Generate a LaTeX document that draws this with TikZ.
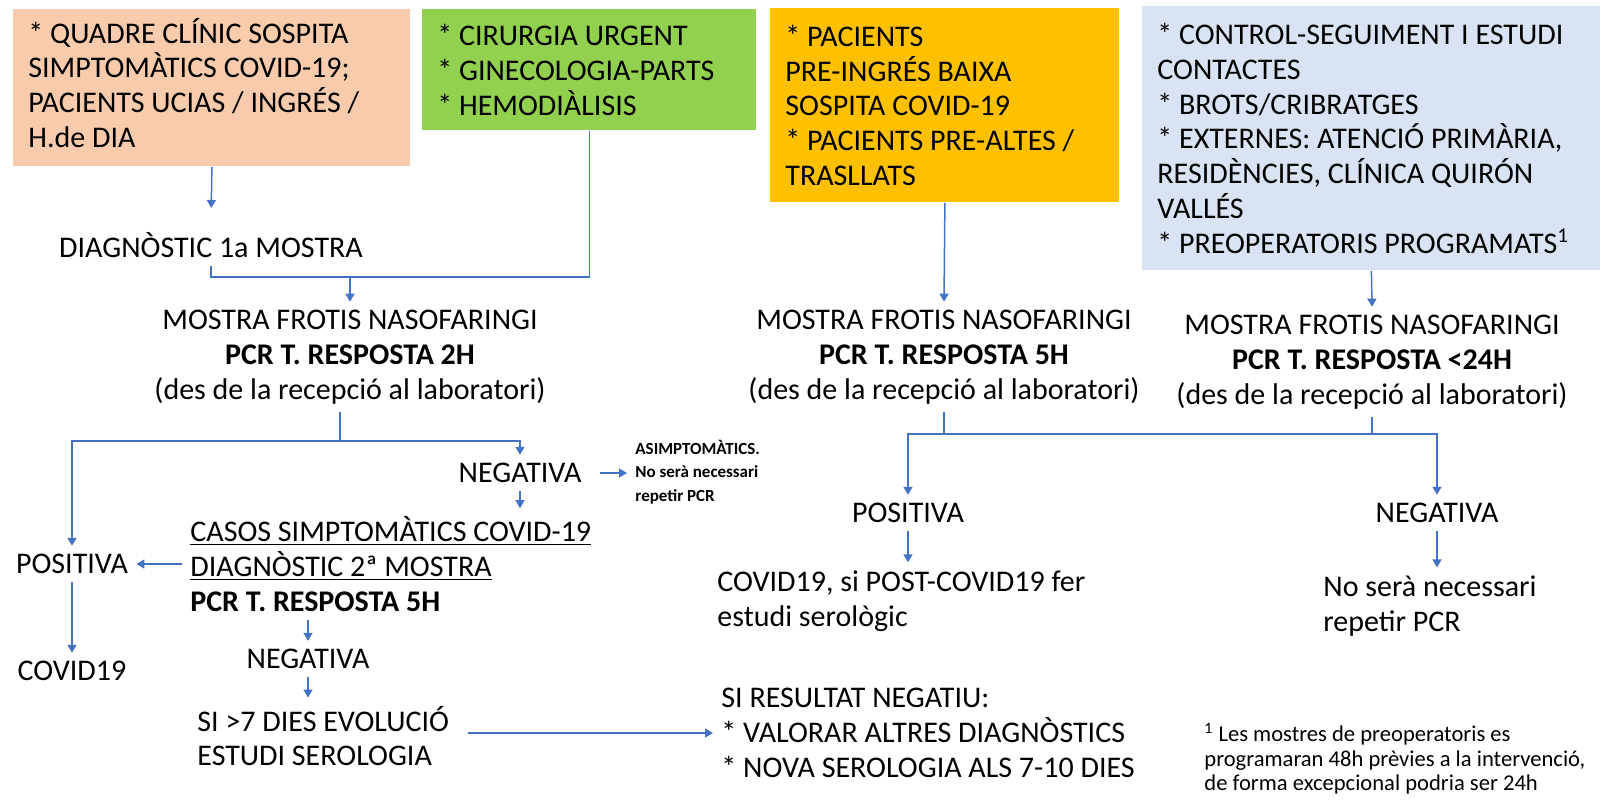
\documentclass[tikz,border=0pt]{standalone}
\usepackage{fontspec}
\setmainfont{Carlito}
\usetikzlibrary{arrows.meta}

\definecolor{salmon}{HTML}{F8CBAD}
\definecolor{grass}{HTML}{92D050}
\definecolor{amber}{HTML}{FFC000}
\definecolor{paleblue}{HTML}{DAE3F3}
\definecolor{linkblue}{HTML}{4472C4}

\newcommand{\bigtxt}{\fontsize{15}{17.4}\selectfont}
\newcommand{\smalltxt}{\fontsize{8.5}{11.75}\selectfont\bfseries}
\newcommand{\notetxt}{\fontsize{11.3}{12.25}\selectfont}

\begin{document}
\begin{tikzpicture}[x=0.5pt,y=-0.5pt,
  box/.style={anchor=north west, inner xsep=7.5pt, inner ysep=0pt, align=flush left, font=\bigtxt},
  lbl/.style={font=\bigtxt, align=center, inner sep=4pt},
  lftlbl/.style={font=\bigtxt, align=flush left, inner sep=4pt, anchor=west},
  conn/.style={draw=linkblue, line width=0.75pt},
  arr/.style={conn, -{Triangle[length=4pt,width=4.5pt]}}]

\useasboundingbox (0,0) rectangle (1600,800);

% boxes on top
\node [box, fill=salmon, minimum width=198.5pt, minimum height=78.5pt, text width=183.5pt,
  execute at end node={\par\vspace{5pt}}] (salmon) at (13,9)
  {* QUADRE CLÍNIC SOSPITA\\SIMPTOMÀTICS COVID-19;\\PACIENTS UCIAS / INGRÉS /\\H.de DIA};
\node [box, fill=grass, minimum width=167pt, minimum height=60.5pt, text width=152pt] (green) at (422,9)
  {* CIRURGIA URGENT\\{*} GINECOLOGIA-PARTS\\{*} HEMODIÀLISIS};
\node [box, fill=amber, minimum width=174.5pt, minimum height=97pt, text width=159.5pt] (amber) at (770,8)
  {* PACIENTS\\PRE-INGRÉS BAIXA\\SOSPITA COVID-19\\{*} PACIENTS PRE-ALTES /\\TRASLLATS};
\node [box, fill=paleblue, minimum width=229pt, minimum height=132pt, text width=214pt] (blue) at (1142,6)
  {* CONTROL-SEGUIMENT I ESTUDI\\CONTACTES\\{*} BROTS/CRIBRATGES\\{*} EXTERNES: ATENCIÓ PRIMÀRIA,\\RESIDÈNCIES, CLÍNICA QUIRÓN\\VALLÉS\\{*} PREOPERATORIS PROGRAMATS\textsuperscript{1}};

% left branch
\node [lbl] (diag1) at (211,245) {DIAGNÒSTIC 1a MOSTRA};
\node [lbl] (frotisA) at (350,357) {MOSTRA FROTIS NASOFARINGI\\\textbf{PCR T. RESPOSTA 2H}\\(des de la recepció al laboratori)};
\node [lbl] (posA) at (72,564) {POSITIVA};
\node [lbl] (covA) at (72,671) {COVID19};
\node [lbl] (negA) at (520,473) {NEGATIVA};
\node [anchor=west, font=\smalltxt, align=flush left, inner sep=4pt] (asym) at (627,472)
  {ASIMPTOMÀTICS.\\No serà necessari\\repetir PCR};
\node [lftlbl] (case2) at (182,564)
  {\underline{CASOS SIMPTOMÀTICS COVID-19}\\\underline{DIAGNÒSTIC 2ª MOSTRA}\\\textbf{PCR T. RESPOSTA 5H}};
\node [lbl] (negB) at (308,659) {NEGATIVA};
\node [lftlbl] (sero) at (189,736) {SI >7 DIES EVOLUCIÓ\\ESTUDI SEROLOGIA};
\node [lftlbl] (result) at (713,733) {SI RESULTAT NEGATIU:\\{*} VALORAR ALTRES DIAGNÒSTICS\\{*} NOVA SEROLOGIA ALS 7-10 DIES};

% middle and right branch
\node [lbl] (frotisB) at (944,357) {MOSTRA FROTIS NASOFARINGI\\\textbf{PCR T. RESPOSTA 5H}\\(des de la recepció al laboratori)};
\node [lbl] (frotisC) at (1372,362) {MOSTRA FROTIS NASOFARINGI\\\textbf{PCR T. RESPOSTA <24H}\\(des de la recepció al laboratori)};
\node [lbl] (posB) at (908,513) {POSITIVA};
\node [lbl] (negC) at (1437,513) {NEGATIVA};
\node [lftlbl] (covB) at (709,601) {COVID19, si POST-COVID19 fer\\estudi serològic};
\node [lftlbl] (noPCR) at (1315,606) {No serà necessari\\repetir PCR};
\node [anchor=west, font=\notetxt, align=flush left, inner sep=4pt] (note) at (1196,759)
  {\textsuperscript{1} Les mostres de preoperatoris es\\programaran 48h prèvies a la intervenció,\\de forma excepcional podria ser 24h};

\coordinate (jA) at (350,277);
\coordinate (jB) at (340,441);
\coordinate (jC) at (944,434);

\draw [arr, shorten >=8pt] (salmon.south) -- (diag1.north);
\draw [conn] (diag1.south) |- (green.south |- jA) -- (green.south);
\draw [arr] (jA) -- (frotisA.north);
\draw [conn] (frotisA.south -| jB) -- (jB);
\draw [arr] (jB) -| (posA.north);
\draw [arr] (jB) -| (negA.north);
\draw [arr, shorten <=5pt] (negA.east) -- (asym.west |- negA.east);
\draw [arr] (negA.south) -- (negA.south |- case2.north);
\draw [arr] (case2.west) -- (posA.east);
\draw [arr] (posA.south) -- (covA.north);
\draw [arr] (case2.south -| negB) -- (negB.north);
\draw [arr] (negB.south) -- (negB.south |- sero.north);
\draw [arr, shorten <=5pt] (sero.east |- result.west) -- (result.west);

\draw [arr] (amber.south) -- (frotisB.north);
\draw [arr] (blue.south) -- (frotisC.north);
\draw [arr] (frotisB.south) -- (jC) -| (posB.north);
\draw [arr] (jC) -| (negC.north);
\draw [conn] (frotisC.south) -- (frotisC.south |- jC);
\draw [arr] (posB.south) -- (posB.south |- covB.north);
\draw [arr] (negC.south) -- (negC.south |- noPCR.north);

\end{tikzpicture}
\end{document}
